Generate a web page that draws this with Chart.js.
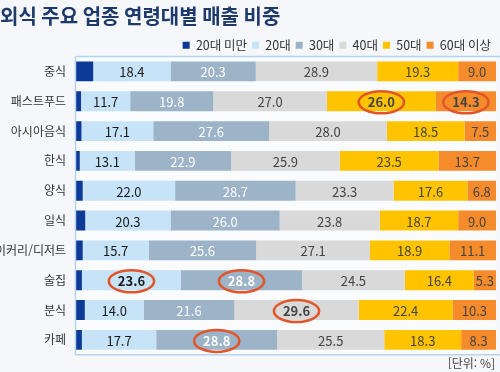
<!DOCTYPE html>
<html lang="ko">
<head>
<meta charset="UTF-8">
<title>외식 주요 업종 연령대별 매출 비중</title>
<script src="https://cdn.jsdelivr.net/npm/chart.js@4.4.1/dist/chart.umd.min.js"></script>
<style>
  html, body { margin: 0; padding: 0; background: #f5f7fa; }
  .wrap { width: 500px; height: 372px; position: relative; }
</style>
</head>
<body>
<div class="wrap"><canvas id="ageChart"></canvas></div>
<script>
// categories and series (%)
const categories = ['중식', '패스트푸드', '아시아음식', '한식', '양식', '일식', '베이커리/디저트', '술집', '분식', '카페'];
const seriesNames = ['20대 미만', '20대', '30대', '40대', '50대', '60대 이상'];
const under20 = [4.1, 1.2, 1.3, 0.9, 1.6, 2.2, 1.6, 1.4, 2.1, 1.4];
const age20 = [18.4, 11.7, 17.1, 13.1, 22.0, 20.3, 15.7, 23.6, 14.0, 17.7];
const age30 = [20.3, 19.8, 27.6, 22.9, 28.7, 26.0, 25.6, 28.8, 21.6, 28.8];
const age40 = [28.9, 27.0, 28.0, 25.9, 23.3, 23.8, 27.1, 24.5, 29.6, 25.5];
const age50 = [19.3, 26.0, 18.5, 23.5, 17.6, 18.7, 18.9, 16.4, 22.4, 18.3];
const age60 = [9.0, 14.3, 7.5, 13.7, 6.8, 9.0, 11.1, 5.3, 10.3, 8.3];
// highlighted cells: [category index, series index]
const highlights = [[1, 4], [1, 5], [7, 1], [7, 2], [8, 3], [9, 2]];

const colors = ['#0d3a96', '#c6e3f7', '#9db3c7', '#d9d9d9', '#ffc300', '#f68b2b'];
const labelColors = [null, '#1a1a1a', '#ffffff', '#444444', '#444444', '#444444'];
const FONT = '"Noto Sans CJK KR", "Noto Sans", sans-serif';

const allSeries = [under20, age20, age30, age40, age50, age60];

const isHot = (ci, di) => highlights.some(h => h[0] === ci && h[1] === di);

// plot frame + value labels + circles + unit note
const decor = {
  id: 'decor',
  beforeDatasetsDraw(chart) {
    const { ctx, chartArea: a } = chart;
    ctx.save();
    ctx.fillStyle = '#f9fbfd';
    ctx.fillRect(a.left, a.top, a.right - a.left, a.bottom - a.top);
    ctx.restore();
  },
  afterDatasetsDraw(chart) {
    const { ctx, chartArea: a } = chart;
    ctx.save();
    ctx.strokeStyle = '#b3d3ee';
    ctx.lineWidth = 1.5;
    ctx.beginPath();
    ctx.moveTo(a.left - 0.5, a.top);
    ctx.lineTo(chart.width, a.top);
    ctx.moveTo(a.left - 0.5, a.top);
    ctx.lineTo(a.left - 0.5, a.bottom);
    ctx.lineTo(chart.width, a.bottom);
    ctx.stroke();

    ctx.textAlign = 'center';
    ctx.textBaseline = 'middle';
    chart.data.datasets.forEach((ds, di) => {
      if (di === 0) return;
      const meta = chart.getDatasetMeta(di);
      meta.data.forEach((bar, ci) => {
        const cx = (bar.x + bar.base) / 2;
        const cy = bar.y;
        const hot = isHot(ci, di);
        ctx.font = (hot ? 'bold ' : '') + '13px ' + FONT;
        ctx.fillStyle = labelColors[di];
        const txt = ds.data[ci].toFixed(1);
        ctx.fillText(txt, cx, cy + 1);
        if (hot) {
          const w = ctx.measureText(txt).width + 18;
          ctx.strokeStyle = '#e2552a';
          ctx.lineWidth = 2.5;
          ctx.beginPath();
          ctx.ellipse(cx, cy + 1, w / 2, 11, 0, 0, Math.PI * 2);
          ctx.stroke();
        }
      });
    });

    ctx.font = '12px ' + FONT;
    ctx.fillStyle = '#444';
    ctx.textAlign = 'right';
    ctx.fillText('[단위: %]', chart.width - 5, a.bottom + 9);
    ctx.restore();
  }
};

const chart = new Chart(document.getElementById('ageChart'), {
  type: 'bar',
  data: {
    labels: categories,
    datasets: seriesNames.map((name, i) => ({
      label: name,
      data: allSeries[i],
      backgroundColor: colors[i],
      borderWidth: 0,
      barPercentage: 0.667,
      categoryPercentage: 1
    }))
  },
  options: {
    indexAxis: 'y',
    responsive: true,
    maintainAspectRatio: false,
    animation: false,
    layout: { padding: { left: 0, right: 4, top: 0, bottom: 15 } },
    scales: {
      x: { stacked: true, min: 0, max: 100, display: false },
      y: {
        stacked: true,
        grid: { display: false, drawTicks: false },
        border: { display: false },
        ticks: { color: '#333', font: { family: FONT, size: 12 }, padding: 10 },
        afterFit(scale) { scale.width = 76; }
      }
    },
    plugins: {
      title: {
        display: true,
        text: '외식 주요 업종 연령대별 매출 비중',
        align: 'start',
        color: '#1e3a6b',
        font: { family: FONT, size: 20, weight: 'bold' },
        padding: { top: 4, bottom: 6 }
      },
      legend: {
        position: 'top',
        align: 'end',
        labels: {
          color: '#333',
          font: { family: FONT, size: 12.5 },
          boxWidth: 7,
          boxHeight: 7,
          padding: 5
        }
      },
      tooltip: { enabled: false }
    }
  },
  plugins: [decor]
});

// trim the space under the legend so the plot starts right below it
const legendFit = chart.legend.fit;
chart.legend.fit = function () {
  legendFit.call(this);
  this.height -= 5;
};
chart.update();
</script>
</body>
</html>
